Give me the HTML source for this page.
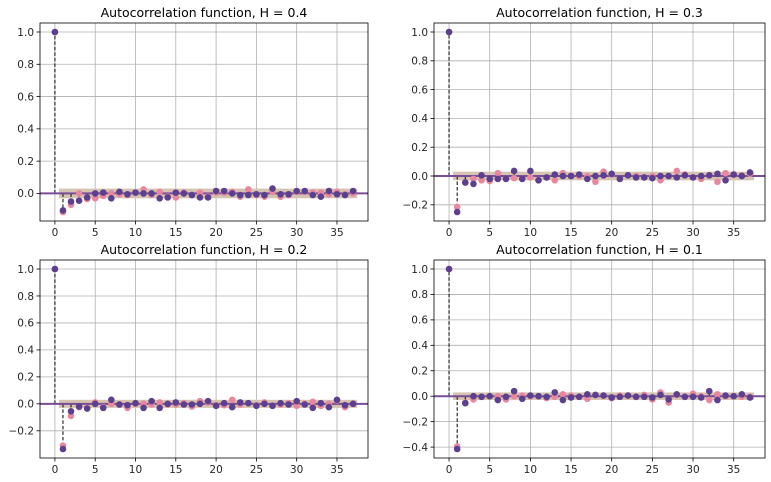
<!DOCTYPE html>
<html><head><meta charset="utf-8"><style>
body{margin:0;background:#fff;}
svg{display:block;font-family:"DejaVu Sans","Liberation Sans",sans-serif;}
</style></head><body>
<svg id="fig" width="771" height="482" viewBox="0 0 771 482" xmlns="http://www.w3.org/2000/svg"></svg>
<script>
const lags = Array.from({length:38},(_,i)=>i);
const titles = ["Autocorrelation function, H = 0.4","Autocorrelation function, H = 0.3","Autocorrelation function, H = 0.2","Autocorrelation function, H = 0.1"];
const pinkH04 = [1,-0.115,-0.07,0,-0.035,-0.03,-0.015,0,-0.005,-0.01,0.005,0.025,-0.01,0.01,-0.02,-0.025,0.005,-0.01,0.005,-0.02,0.005,0.005,0.01,-0.02,0.025,-0.01,-0.02,0.01,-0.02,-0.01,0.01,0.01,0.005,0.005,-0.005,0.01,-0.005,0];
const purpleH04 = [1,-0.105,-0.05,-0.045,-0.025,0,0.005,-0.03,0.01,-0.005,0.005,0,0,-0.03,-0.025,0.005,0,-0.01,-0.025,-0.025,0.015,0.015,0,-0.01,-0.01,-0.005,-0.01,0.03,-0.005,-0.005,0.015,0.015,-0.01,-0.02,0.015,-0.005,-0.01,0.015];
const pinkH03 = [1,-0.215,-0.045,-0.02,-0.03,-0.035,0.02,-0.02,-0.015,-0.02,-0.01,-0.03,-0.01,-0.03,0.02,0,0,0,-0.04,0.03,0.01,-0.02,0.005,0,-0.01,0,-0.03,0,0.035,0.01,-0.01,-0.02,0.005,-0.04,0.02,0.01,0.005,0.015];
const purpleH03 = [1,-0.25,-0.045,-0.055,0.005,-0.02,-0.02,-0.02,0.035,-0.02,0.035,-0.03,-0.01,0.01,0,0,0.01,-0.02,0,0.005,0.015,-0.02,0.005,-0.01,-0.01,-0.015,0,0,-0.01,0.005,-0.01,0,0.005,0.015,-0.03,0.01,0,0.025];
const pinkH02 = [1,-0.31,-0.09,-0.025,-0.03,0.01,-0.025,0,-0.005,-0.03,0,0,-0.005,0.01,-0.005,-0.005,0.005,-0.02,0.02,0.01,-0.01,-0.01,0.03,-0.005,0.005,-0.01,0.01,-0.015,-0.005,0.005,-0.015,0,0.015,-0.015,0,0.025,-0.025,0];
const purpleH02 = [1,-0.335,-0.055,-0.02,-0.035,0,-0.03,0.03,-0.005,-0.01,0.005,-0.03,0.02,-0.03,0,0.01,-0.005,-0.005,0,0.02,-0.015,0.005,-0.025,0.01,0.005,-0.015,0,-0.015,0.005,-0.005,0.02,-0.005,-0.03,0.005,-0.025,0.03,-0.01,0];
const pinkH01 = [1,-0.395,-0.05,-0.025,-0.005,0,0,-0.025,0,0.005,0,0,-0.015,-0.005,0.015,0.005,-0.005,-0.02,0.01,0.005,-0.015,0.005,0.005,-0.005,0.01,-0.025,0.03,-0.05,0.01,-0.005,0.02,0,-0.03,0.015,0,0,-0.005,-0.005];
const purpleH01 = [1,-0.415,-0.055,0,-0.005,0,-0.03,-0.005,0.04,-0.02,0.005,0,-0.005,0.03,-0.03,-0.01,-0.005,0.015,0.01,0.005,-0.01,-0.005,0.005,-0.005,-0.005,-0.01,0.01,-0.025,0.015,-0.005,-0.005,-0.01,0.04,-0.03,0.005,0,0.015,-0.01];
const xTicks = [0,5,10,15,20,25,30,35];
const yTicksH04 = [0,0.2,0.4,0.6,0.8,1.0];
const yTicksH03 = [-0.2,0,0.2,0.4,0.6,0.8,1.0];
const yTicksH02 = [-0.2,0,0.2,0.4,0.6,0.8,1.0];
const yTicksH01 = [-0.4,-0.2,0,0.2,0.4,0.6,0.8,1.0];
const bandHalf = 0.03;

const NS="http://www.w3.org/2000/svg";
const svg=document.getElementById('fig');
function mk(tag,attrs,parent){const e=document.createElementNS(NS,tag);for(const k in attrs)e.setAttribute(k,attrs[k]);(parent||svg).appendChild(e);return e;}

const panels=[
 {box:[40,23,368,221],pink:pinkH04,purple:purpleH04,yt:yTicksH04,title:titles[0],name:'h04'},
 {box:[434,23,765,221],pink:pinkH03,purple:purpleH03,yt:yTicksH03,title:titles[1],name:'h03'},
 {box:[40,260,368,458],pink:pinkH02,purple:purpleH02,yt:yTicksH02,title:titles[2],name:'h02'},
 {box:[434,260,765,458],pink:pinkH01,purple:purpleH01,yt:yTicksH01,title:titles[3],name:'h01'}
];

panels.forEach(p=>{
  const [L,T,R,B]=p.box;
  const g=mk('g',{});
  
  
  const xmin=-1.85,xmax=38.85;
  const allv=p.pink.concat(p.purple);
  const dmin=Math.min(...allv),dmax=Math.max(...allv);
  const pad=(dmax-dmin)*0.05;
  const ymin=dmin-pad,ymax=dmax+pad;
  const X=v=>L+(v-xmin)/(xmax-xmin)*(R-L);
  const Y=v=>B-(v-ymin)/(ymax-ymin)*(B-T);
  xTicks.forEach(t=>{
    const l=mk('line',{x1:X(t),x2:X(t),y1:T,y2:B,stroke:'#b0b0b0','stroke-width':0.8},g);
    
    
    mk('line',{x1:X(t),x2:X(t),y1:B,y2:B+3.5,stroke:'#000','stroke-width':0.8},g);
    const tx=mk('text',{x:X(t),y:B+15,'text-anchor':'middle','font-size':10.5,fill:'#262626'},g);
    tx.textContent=t;
    
    
  });
  p.yt.forEach(t=>{
    const l=mk('line',{x1:L,x2:R,y1:Y(t),y2:Y(t),stroke:'#b0b0b0','stroke-width':0.8},g);
    
    
    mk('line',{x1:L-3.5,x2:L,y1:Y(t),y2:Y(t),stroke:'#000','stroke-width':0.8},g);
    const tx=mk('text',{x:L-6,y:Y(t)+3.8,'text-anchor':'end','font-size':10.5,fill:'#262626'},g);
    tx.textContent=(t<0?'\u2212':'')+Math.abs(t).toFixed(1);
    
    
  });
  const band=mk('rect',{x:X(0.5),y:Y(bandHalf),width:X(37.5)-X(0.5),height:Y(-bandHalf)-Y(bandHalf),fill:'#d5c4b2'},g);
  
  
  lags.forEach(i=>{
    const s=mk('line',{x1:X(lags[i]),x2:X(lags[i]),y1:Y(0),y2:Y(p.purple[i]),stroke:'#000','stroke-width':1,'stroke-dasharray':'3.5,2'},g);
    
    
  });
  const z=mk('line',{x1:L,x2:R,y1:Y(0),y2:Y(0),stroke:'#7a4e97','stroke-width':2},g);
  
  
  lags.forEach(i=>{
    const c=mk('circle',{cx:X(lags[i]),cy:Y(p.pink[i]),r:3.3,fill:'#e8879f'},g);
    
    
  });
  lags.forEach(i=>{
    const c=mk('circle',{cx:X(lags[i]),cy:Y(p.purple[i]),r:3.3,fill:'#5d3f8f'},g);
    
    
  });
  const fr=mk('rect',{x:L,y:T,width:R-L,height:B-T,fill:'none',stroke:'#000','stroke-width':0.8},g);
  
  
  const tt=mk('text',{x:(L+R)/2,y:T-6,'text-anchor':'middle','font-size':12.5,fill:'#000'},g);
  tt.textContent=p.title;
  
  
});
</script>
</body></html>
